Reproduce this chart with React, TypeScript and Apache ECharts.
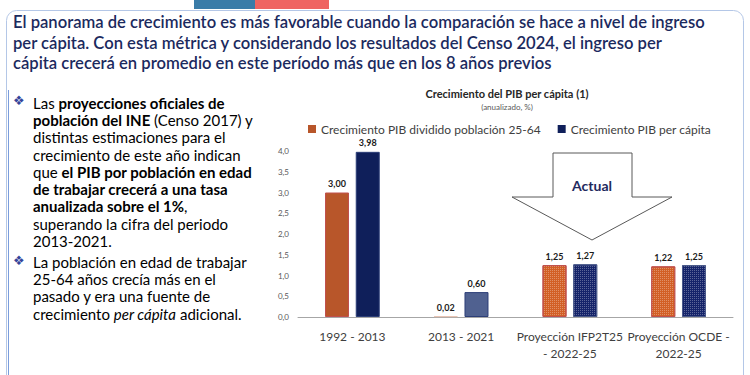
import React, { useEffect, useRef } from "react";
import * as echarts from "echarts";

const categories = ["1992 - 2013", "2013 - 2021", "Proyección IFP2T25\n- 2022-25", "Proyección OCDE -\n2022-25"];
const seriesNames = ["Crecimiento PIB dividido población 25-64", "Crecimiento PIB per cápita"];
const pibPoblacion = [3.0, 0.02, 1.25, 1.22];
const pibPerCapita = [3.98, 0.6, 1.27, 1.25];
const yTicks = { min: 0, max: 4, interval: 0.5 };

const titleLines = [
  "El panorama de crecimiento es más favorable cuando la comparación se hace a nivel de ingreso",
  "per cápita. Con esta métrica y considerando los resultados del Censo 2024, el ingreso per",
  "cápita crecerá en promedio en este período más que en los 8 años previos",
];

const bullet1 =
  "{n|Las }{b|proyecciones oficiales de}\n" +
  "{b|población del INE}{n| (Censo 2017) y}\n" +
  "{n|distintas estimaciones para el}\n" +
  "{n|crecimiento de este año indican}\n" +
  "{n|que }{b|el PIB por población en edad}\n" +
  "{b|de trabajar crecerá a una tasa}\n" +
  "{b|anualizada sobre el 1%}{n|,}\n" +
  "{n|superando la cifra del periodo}\n" +
  "{n|2013-2021.}";

const bullet2 =
  "{n|La población en edad de trabajar}\n" +
  "{n|25-64 años crecía más en el}\n" +
  "{n|pasado y era una fuente de}\n" +
  "{n|crecimiento }{i|per cápita}{n| adicional.}";

const fmt = (v: number, d: number) => v.toFixed(d).replace(".", ",");

export default function App() {
  const ref = useRef<HTMLDivElement>(null);
  useEffect(() => {
    if (!ref.current) return;
    const chart = echarts.init(ref.current, undefined, { renderer: "svg" });
    const font = "Lato, 'Noto Sans', sans-serif";
    const orange = "#b8562a";
    const navy = "#0f1f5a";
    const decal = { symbol: "rect", symbolSize: 1, dashArrayX: [1, 1], dashArrayY: [1, 1], color: "rgba(255,255,255,0.3)" };
    const orangeStyles = [
      { color: orange, borderColor: "#c0504d", borderWidth: 1 },
      { color: "#f0d8cc", borderColor: "#e8c4b4", borderWidth: 1 },
      { color: "#d25f25", borderColor: "#c0504d", borderWidth: 1, decal },
      { color: "#d25f25", borderColor: "#c0504d", borderWidth: 1, decal },
    ];
    const navyStyles = [
      { color: navy, borderColor: "#2c3e78", borderWidth: 1 },
      { color: "#506190", borderColor: "#2c3e78", borderWidth: 1 },
      { color: "#15246a", borderColor: "#4a5a8a", borderWidth: 1, decal },
      { color: "#15246a", borderColor: "#4a5a8a", borderWidth: 1, decal },
    ];
    const label = {
      show: true,
      position: "top" as const,
      distance: 4,
      fontSize: 9,
      lineHeight: 10,
      fontWeight: "bold" as const,
      fontFamily: font,
      color: "#1a1a1a",
      formatter: (p: any) => fmt(p.value, 2),
    };
    const rich = {
      n: { fontSize: 15, fontFamily: font, color: "#34449a", lineHeight: 17.3 },
      b: { fontSize: 15, fontFamily: font, color: "#1f2b75", fontWeight: "bold" as const, lineHeight: 17.3 },
      i: { fontSize: 15, fontFamily: font, color: "#34449a", fontStyle: "italic" as const, lineHeight: 17.3 },
    };
    chart.setOption({
      animation: false,
      backgroundColor: "#ffffff",
      textStyle: { fontFamily: font },
      legend: {
        left: 308,
        top: 123,
        padding: 0,
        itemWidth: 8,
        itemHeight: 8,
        itemGap: 17,
        icon: "rect",
        textStyle: { fontSize: 12, lineHeight: 12, color: "#404040", fontFamily: font },
        data: [
          { name: seriesNames[0], itemStyle: { color: orange } },
          { name: seriesNames[1], itemStyle: { color: navy } },
        ],
      },
      grid: { left: 298, right: 17, top: 151, bottom: 58 },
      xAxis: {
        type: "category",
        data: categories,
        axisLine: { lineStyle: { color: "#a6a6a6" } },
        axisTick: { show: false },
        axisLabel: { fontSize: 12, color: "#404040", fontFamily: font, margin: 11, lineHeight: 17, interval: 0 },
      },
      yAxis: {
        type: "value",
        min: yTicks.min,
        max: yTicks.max,
        interval: yTicks.interval,
        splitLine: { show: false },
        axisLine: { show: false },
        axisTick: { show: false },
        axisLabel: { fontSize: 8, color: "#595959", fontFamily: font, margin: 9, formatter: (v: number) => fmt(v, 1) },
      },
      series: [
        {
          name: seriesNames[0],
          type: "bar",
          barWidth: 24,
          barGap: "28%",
          data: pibPoblacion.map((v, i) => ({ value: v, itemStyle: orangeStyles[i] })),
          label,
        },
        {
          name: seriesNames[1],
          type: "bar",
          barWidth: 24,
          data: pibPerCapita.map((v, i) => ({ value: v, itemStyle: navyStyles[i] })),
          label,
        },
      ],
      graphic: [
        { type: "rect", shape: { x: 6.5, y: 10.5, width: 737, height: 400, r: 10 }, style: { fill: "none", stroke: "#b4c7e7", lineWidth: 1 }, z: 1 },
        { type: "rect", shape: { x: 194, y: 0, width: 61, height: 9 }, style: { fill: "#3a7ca8" } },
        { type: "rect", shape: { x: 255, y: 0, width: 74, height: 9 }, style: { fill: "#ef6461" } },
        { type: "line", shape: { x1: 8.5, y1: 90, x2: 8.5, y2: 375 }, style: { stroke: "#7b9ddb", lineWidth: 1 } },
        {
          type: "text",
          x: 13,
          y: 12,
          style: {
            text: titleLines.join("\n"),
            fontSize: 16.6,
            fontWeight: 600,
            fontFamily: font,
            fill: "#1b2a5e",
            lineHeight: 20.5,
          },
        },
        { type: "text", x: 13, y: 94, style: { text: "❖", fontSize: 13, fontFamily: "'DejaVu Sans'", fill: "#34449a" } },
        { type: "text", x: 33, y: 94, style: { text: bullet1, rich } },
        { type: "text", x: 13, y: 254, style: { text: "❖", fontSize: 13, fontFamily: "'DejaVu Sans'", fill: "#34449a" } },
        { type: "text", x: 33, y: 253, style: { text: bullet2, rich } },
        {
          type: "text",
          x: 507,
          y: 93,
          style: { text: "Crecimiento del PIB per cápita (1)", fontSize: 11, fontWeight: "bold", fontFamily: font, fill: "#262626", align: "center", verticalAlign: "middle" },
        },
        {
          type: "text",
          x: 507,
          y: 107,
          style: { text: "(anualizado, %)", fontSize: 8, fontFamily: font, fill: "#595959", align: "center", verticalAlign: "middle" },
        },
        {
          type: "polygon",
          shape: { points: [[553, 153], [632, 153], [632, 197], [672, 197], [592, 240], [512, 197], [553, 197]] },
          style: { fill: "#ffffff", stroke: "#595959", lineWidth: 1 },
          z: 10,
        },
        {
          type: "text",
          x: 592,
          y: 185,
          z: 11,
          style: { text: "Actual", fontSize: 14, fontWeight: "bold", fontFamily: font, fill: "#1f2a5e", align: "center", verticalAlign: "middle" },
        },
      ],
    });
    return () => chart.dispose();
  }, []);
  return <div ref={ref} style={{ position: "fixed", left: 0, top: 0, width: 750, height: 375 }} />;
}
